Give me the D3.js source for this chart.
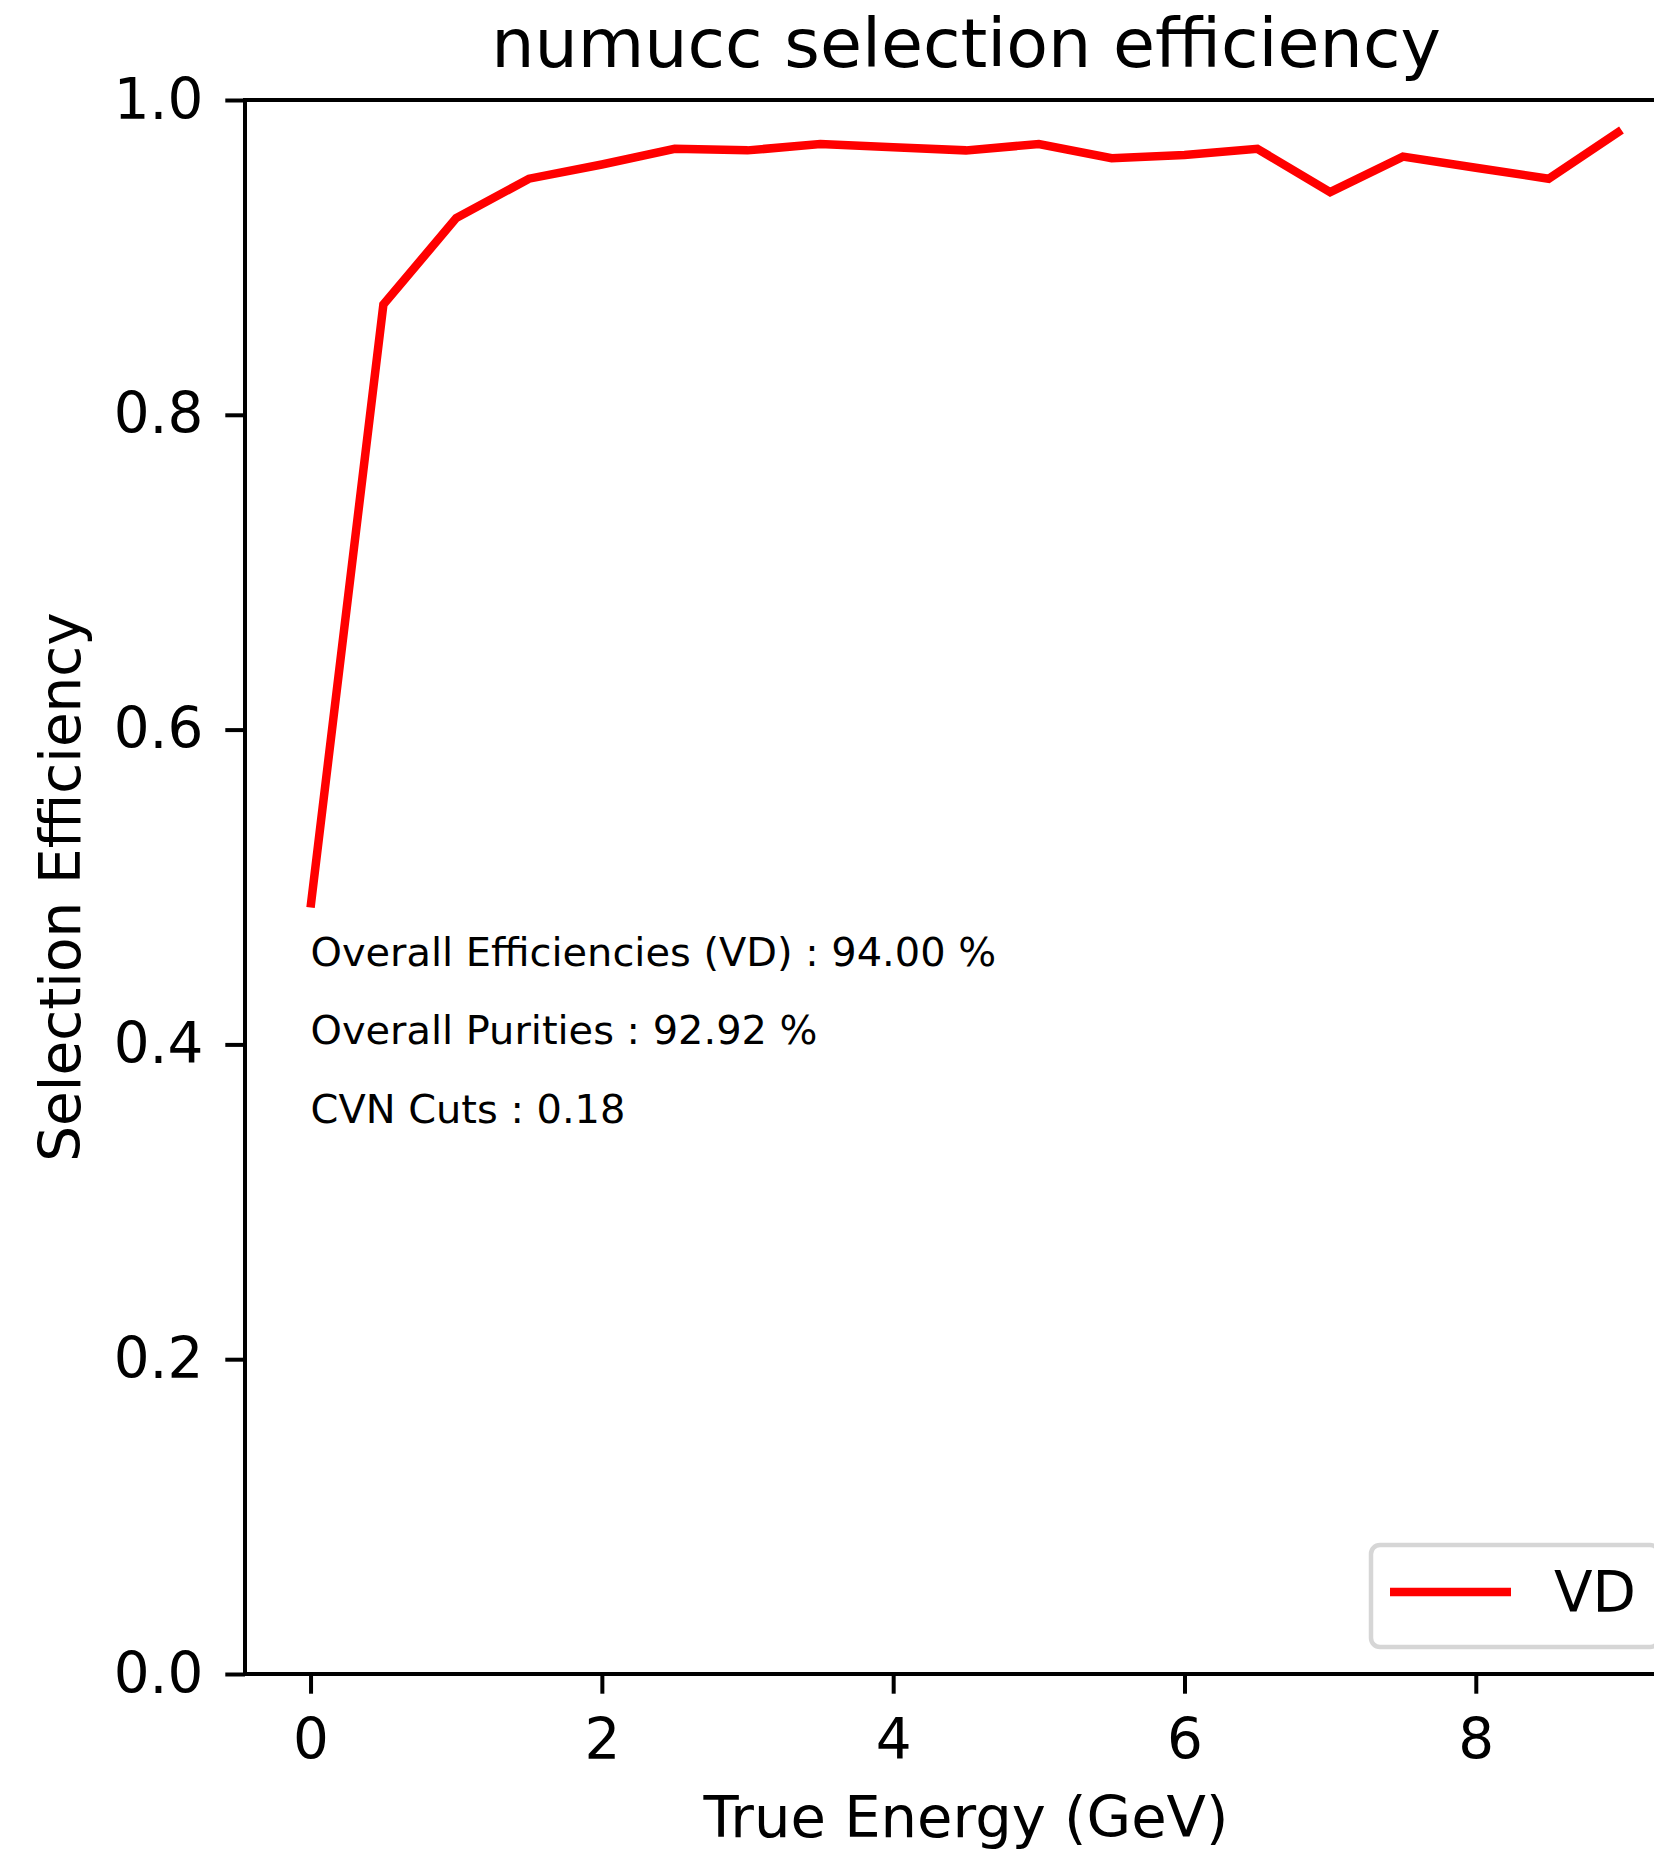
<!DOCTYPE html>
<html>
<head>
<meta charset="utf-8">
<script src="https://cdn.jsdelivr.net/npm/d3@7"></script>
<style>
    html, body { margin: 0; padding: 0; background: #fff; }
    svg { display: block; font-family: "DejaVu Sans", sans-serif; }
</style>
</head>
<body>
<div id="chart"></div>
<script>
// numucc selection efficiency vs true energy
const energies = [0, 0.5, 1, 1.5, 2, 2.5, 3, 3.5, 4, 4.5, 5, 5.5, 6, 6.5, 7, 7.5, 8, 8.5, 9];
const efficiency = [0.487, 0.870, 0.925, 0.950, 0.959, 0.969, 0.968, 0.972, 0.970, 0.968,
                    0.972, 0.963, 0.965, 0.969, 0.9415, 0.964, 0.957, 0.950, 0.981];
const xTicks = [0, 2, 4, 6, 8];
const yTicks = [0, 0.2, 0.4, 0.6, 0.8, 1.0];
const statLines = ['Overall Efficiencies (VD) : 94.00 %', 'Overall Purities : 92.92 %', 'CVN Cuts : 0.18'];
const statY = [0.45, 0.40, 0.35];
const seriesName = 'VD';

const W = 1654, H = 1850;
const plotLeft = 245, plotRight = 1687, plotTop = 100, plotBottom = 1674;
const tickLen = 19.7, tickFont = 56.4;

const svg = d3.select('#chart').append('svg')
    .attr('width', W).attr('height', H);
svg.append('rect').attr('width', W).attr('height', H).attr('fill', '#fff');

const x = d3.scaleLinear().domain([-0.45, 9.45]).range([plotLeft, plotRight]);
const y = d3.scaleLinear().domain([0, 1]).range([plotBottom, plotTop]);

svg.append('clipPath').attr('id', 'plot-clip')
    .append('rect').attr('x', plotLeft).attr('y', plotTop)
    .attr('width', plotRight - plotLeft).attr('height', plotBottom - plotTop);

// line
const line = d3.line().x((d, i) => x(energies[i])).y(d => y(d));
svg.append('path')
    .datum(efficiency)
    .attr('clip-path', 'url(#plot-clip)')
    .attr('fill', 'none')
    .attr('stroke', '#ff0000')
    .attr('stroke-width', 8.5)
    .attr('stroke-linejoin', 'miter')
    .attr('d', line);

// axes
const yAxis = svg.append('g')
    .attr('transform', `translate(${plotLeft},0)`)
    .call(d3.axisLeft(y).tickValues(yTicks).tickFormat(d3.format('.1f'))
        .tickSize(tickLen).tickPadding(22));
const xAxis = svg.append('g')
    .attr('transform', `translate(0,${plotBottom})`)
    .call(d3.axisBottom(x).tickValues(xTicks).tickFormat(d3.format('d'))
        .tickSize(tickLen).tickPadding(25));

[yAxis, xAxis].forEach(g => {
    g.select('.domain').remove();
    g.selectAll('.tick line').attr('stroke', '#000').attr('stroke-width', 4);
    g.selectAll('.tick text')
        .attr('fill', '#000')
        .style('font-family', '"DejaVu Sans", sans-serif')
        .style('font-size', tickFont + 'px');
});

// spines
svg.append('rect')
    .attr('x', plotLeft).attr('y', plotTop)
    .attr('width', plotRight - plotLeft).attr('height', plotBottom - plotTop)
    .attr('fill', 'none').attr('stroke', '#000').attr('stroke-width', 4)
    .attr('stroke-linejoin', 'miter');

// stats text
svg.append('g').selectAll('text')
    .data(statLines)
    .join('text')
    .attr('x', x(0))
    .attr('y', (d, i) => y(statY[i]))
    .attr('font-size', '39.9px')
    .attr('fill', '#000')
    .text(d => d);

// title and labels
svg.append('text')
    .attr('x', (plotLeft + plotRight) / 2).attr('y', 67)
    .attr('text-anchor', 'middle')
    .attr('font-size', '68.3px')
    .text('numucc selection efficiency');

svg.append('text')
    .attr('x', (plotLeft + plotRight) / 2).attr('y', 1837)
    .attr('text-anchor', 'middle')
    .attr('font-size', '57.6px')
    .text('True Energy (GeV)');

svg.append('text')
    .attr('transform', `translate(80,${(plotTop + plotBottom) / 2}) rotate(-90)`)
    .attr('text-anchor', 'middle')
    .attr('font-size', tickFont + 'px')
    .text('Selection Efficiency');

// legend (lower right)
const legend = svg.append('g');
legend.append('rect')
    .attr('x', 1371).attr('y', 1545)
    .attr('width', 288).attr('height', 102)
    .attr('rx', 9)
    .attr('fill', 'rgba(255,255,255,0.8)')
    .attr('stroke', '#d6d6d6').attr('stroke-width', 4.5);
legend.append('line')
    .attr('x1', 1390).attr('x2', 1511)
    .attr('y1', 1592).attr('y2', 1592)
    .attr('stroke', '#ff0000').attr('stroke-width', 8.5);
legend.append('text')
    .attr('x', 1554).attr('y', 1612)
    .attr('font-size', tickFont + 'px')
    .text(seriesName);
</script>
</body>
</html>
